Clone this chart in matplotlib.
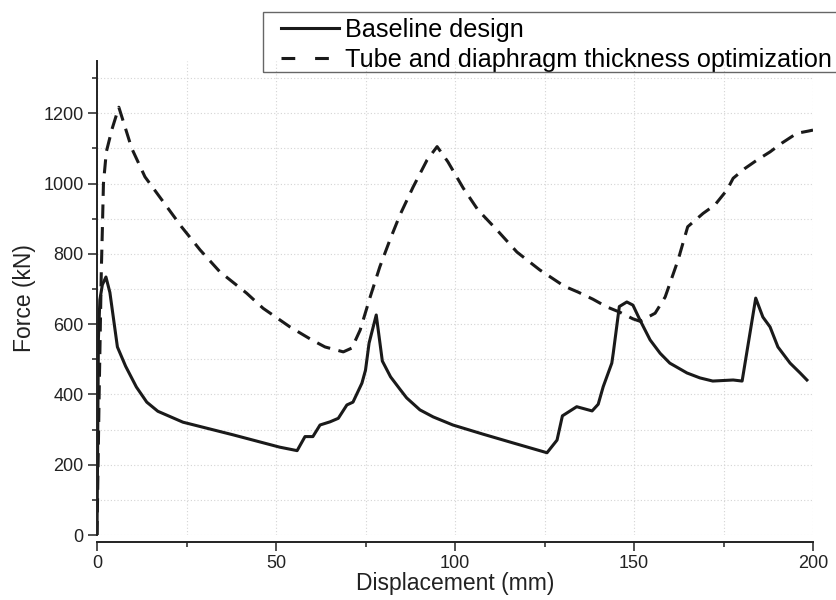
import matplotlib
matplotlib.use('Agg')
import matplotlib.pyplot as plt
from matplotlib.lines import Line2D
from matplotlib.patches import Rectangle
from matplotlib.ticker import MultipleLocator

plt.rcParams['font.family'] = ['Liberation Sans', 'DejaVu Sans']

# baseline design (solid)
base_x = [0, 0.4, 0.8, 1.5, 2.5, 3.6, 5.7, 8.0, 11.0, 13.9, 17.0, 24, 38, 51, 55.9,
          58.1, 60.3, 62.3, 65.1, 67.4, 69.8, 71.5, 74.0, 75.0, 76.0, 78.0, 79.7, 82.0,
          84.6, 86.5, 90.2, 93.9, 99.4, 107.8, 116.2, 125.7, 128.5, 130.0, 134.0, 138.3,
          140.0, 141.4, 143.8, 144.2, 145.9, 148.0, 149.7, 151.7, 154.5, 157.3, 160.0,
          164.8, 168.4, 172.0, 177.7, 180.2, 184.0, 186.0, 188.0, 190.2, 193.6, 196.4, 198.3]
base_f = [0, 560, 669, 712, 734, 690, 535, 480, 421, 378, 352, 321, 285, 250, 240,
          280, 280, 313, 322, 332, 370, 378, 432, 469, 546, 626, 495, 450,
          415, 390, 356, 336, 313, 287, 262, 234, 270, 339, 365, 353,
          372, 422, 489, 517, 650, 663, 654, 611, 555, 517, 489,
          461, 447, 438, 441, 438, 674, 620, 592, 535, 489, 461, 441]

# tube and diaphragm thickness optimization (dashed)
opt_x = [0, 0.6, 1.2, 1.5, 1.8, 2.6, 4.2, 6.1, 9.7, 13.4, 18.5, 23.6, 28.8, 34.3, 41.8,
         46.4, 53.9, 60.0, 63.7, 68.8, 71.2, 73.5, 76.3, 79.0, 81.8, 84.6, 88.3, 92.2,
         95.0, 98.0, 102.3, 106.4, 111.7, 117.3, 123.7, 130.5, 134.4, 138.5, 142.4,
         146.0, 149.7, 151.7, 155.9, 158.7, 162.3, 165.0, 169.3, 172.6, 176.0, 177.7,
         181.0, 184.4, 188.0, 191.3, 195.5, 198.6, 200]
opt_f = [0, 400, 750, 870, 1000, 1090, 1155, 1217, 1100, 1019, 948, 877, 811, 749, 688,
         645, 592, 555, 535, 521, 532, 583, 677, 763, 839, 910, 990, 1067,
         1105, 1062, 987, 925, 868, 805, 754, 708, 691, 671, 649,
         634, 615, 608, 631, 677, 782, 877, 915, 939, 982, 1015,
         1043, 1067, 1090, 1115, 1143, 1149, 1152]

labels = ['Baseline design', 'Tube and diaphragm thickness optimization']

fig = plt.figure(figsize=(8.36, 6), dpi=100)
ax = fig.add_axes([97 / 836, 1 - 535 / 600, 716 / 836, (535 - 60.5) / 600])

ink = '#1a1a1a'
ax.plot(base_x, base_f, color=ink, lw=2.2)
ax.plot(opt_x, opt_f, color=ink, lw=2.2, dashes=(4.6, 2.8))

ax.set_xlim(0, 200)
ax.set_ylim(0, 1350)
ax.xaxis.set_major_locator(MultipleLocator(50))
ax.xaxis.set_minor_locator(MultipleLocator(25))
ax.yaxis.set_major_locator(MultipleLocator(200))
ax.yaxis.set_minor_locator(MultipleLocator(100))

ax.grid(True, which='both', color='#d4d4d4', lw=0.8, ls=(0, (1, 2)))
ax.set_axisbelow(True)

for side in ('top', 'right'):
    ax.spines[side].set_visible(False)
for side in ('left', 'bottom'):
    ax.spines[side].set_linewidth(1.4)
    ax.spines[side].set_color('#222222')
ax.spines['bottom'].set_position(('outward', 5))

ax.tick_params(which='major', direction='out', length=6.5, width=1.1, color='#222222',
               labelsize=13, labelcolor='#222222', pad=3)
ax.tick_params(which='minor', direction='out', length=3.8, width=1.1, color='#222222')

ax.set_xlabel('Displacement (mm)', fontsize=16.5, color='#222222', labelpad=0)
ax.set_ylabel('Force (kN)', fontsize=16.5, color='#222222', labelpad=5)

# legend box runs off the right edge, like the original
fig.add_artist(Rectangle((263 / 836, 1 - 72 / 600), 0.8, 60 / 600, transform=fig.transFigure,
                         fill=False, ec='#666666', lw=1.0))
handles = [Line2D([], [], color=ink, lw=2.2),
           Line2D([], [], color=ink, lw=2.2, dashes=(4.5, 6.5))]
leg = ax.legend(handles, labels, loc='upper left', bbox_to_anchor=(281 / 836, 1 - 17.5 / 600),
                bbox_transform=fig.transFigure, borderaxespad=0, borderpad=0, fontsize=18.2,
                frameon=False, handlelength=2.3, handletextpad=0.22, labelspacing=0.265)

fig.savefig('out.png', dpi=100)
